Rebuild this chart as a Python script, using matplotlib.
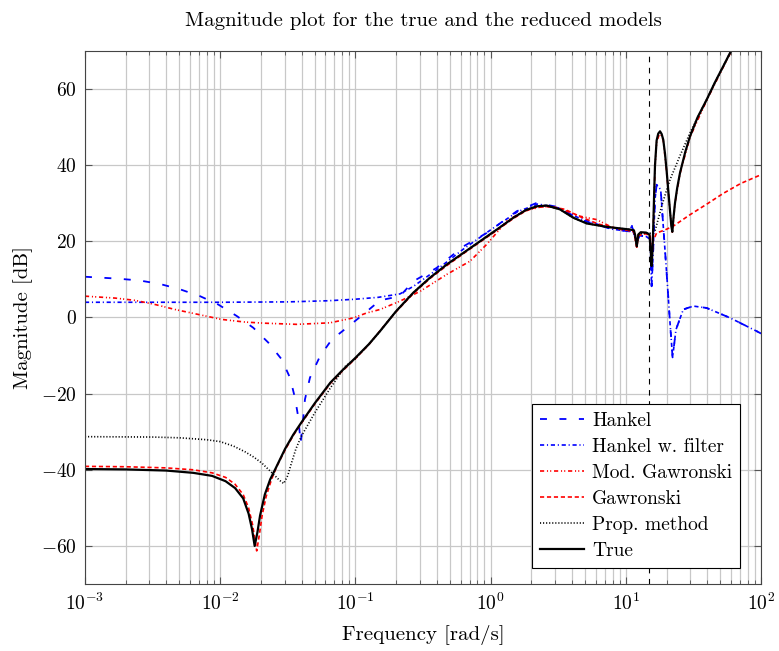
import matplotlib
matplotlib.use("Agg")
import matplotlib.pyplot as plt
import numpy as np

plt.rcParams['font.family'] = 'serif'
plt.rcParams['font.serif'] = ['cmr10', 'DejaVu Serif']
plt.rcParams['mathtext.fontset'] = 'cm'
plt.rcParams['axes.formatter.use_mathtext'] = True
plt.rcParams['lines.scale_dashes'] = False

# log10 of frequency [rad/s] and magnitude [dB] for each curve
lw_true = [-3.0, -2.7, -2.4, -2.2, -2.06, -1.96, -1.89, -1.83, -1.79, -1.765, -1.745, -1.725,
           -1.705, -1.67, -1.63, -1.595, -1.52, -1.46, -1.40, -1.30, -1.185, -1.1, -1.0, -0.9,
           -0.818, -0.7, -0.572, -0.45, -0.325, -0.2, -0.079, 0.05, 0.168, 0.26, 0.341, 0.415,
           0.513, 0.612, 0.711, 0.859, 1.031, 1.06, 1.07,
           1.081, 1.093, 1.11, 1.15, 1.175, 1.185, 1.191, 1.198, 1.204, 1.21, 1.216, 1.228,
           1.24, 1.253, 1.265, 1.277, 1.29, 1.302, 1.315, 1.327, 1.337, 1.344, 1.352, 1.364,
           1.38, 1.401, 1.44, 1.475, 1.53, 1.598, 1.66, 1.721, 1.8, 2.0]
mag_true = [-39.8, -39.9, -40.2, -40.8, -41.6, -43.0, -44.8, -47.5, -51.5, -55.5, -60.0, -56.5,
            -52.0, -46.5, -42.5, -40.0, -34.5, -30.8, -27.6, -22.5, -17.1, -14.0, -10.6, -7.0,
            -3.6, 1.6, 6.5, 10.4, 13.9, 17.0, 20.0, 23.2, 26.2, 28.2, 29.2, 29.4,
            28.4, 26.2, 24.7, 23.8, 23.1, 22.9, 21.5,
            18.7, 21.8, 22.4, 22.3, 21.8, 17.0, 13.5, 18.0, 25.0, 33.0, 40.0, 46.5,
            48.3, 48.9, 48.2, 46.7, 43.0, 38.5, 33.0, 28.0, 24.0, 22.5, 26.0, 30.1,
            34.0, 38.0, 43.5, 47.6, 52.5, 57.2, 61.8, 66.0, 71.5, 86.0]

lw_gaw = [-3.0, -2.7, -2.4, -2.2, -2.06, -1.96, -1.89, -1.83, -1.79, -1.76, -1.73, -1.71,
          -1.69, -1.66, -1.62, -1.58, -1.52, -1.46, -1.40, -1.30, -1.185, -1.1, -1.0, -0.9,
          -0.818, -0.7, -0.572, -0.45, -0.325, -0.2, -0.079, 0.05, 0.168, 0.26, 0.341, 0.45,
          0.55, 0.66, 0.8, 0.95, 1.031, 1.06, 1.081,
          1.093, 1.15, 1.18, 1.191, 1.2, 1.228, 1.29, 1.351, 1.475, 1.6, 1.721, 1.85, 2.0]
mag_gaw = [-39.1, -39.2, -39.5, -40.0, -40.8, -42.0, -43.8, -46.5, -50.0, -54.5, -61.3, -57.0,
           -52.0, -47.0, -42.5, -39.0, -34.8, -31.0, -27.8, -22.7, -17.3, -14.2, -10.8, -7.1,
           -3.5, 1.5, 6.3, 10.2, 13.6, 16.8, 19.8, 23.0, 26.0, 28.0, 29.0, 29.1,
           28.4, 26.5, 24.5, 23.3, 22.8, 22.6, 18.5,
           21.5, 22.0, 21.5, 14.0, 20.0, 22.2, 23.0, 24.0, 27.0, 29.8, 32.6, 35.2, 37.5]

lw_mgaw = [-3.0, -2.778, -2.63, -2.48, -2.334, -2.162, -1.99, -1.817, -1.67, -1.434, -1.188,
           -1.015, -0.916, -0.818, -0.67, -0.52, -0.325, -0.152, -0.029, 0.119, 0.242, 0.39,
           0.5, 0.661, 0.785, 0.908, 1.031, 1.06, 1.081, 1.093, 1.15, 1.18, 1.191, 1.204,
           1.216, 1.228, 1.253, 1.277, 1.302, 1.327, 1.344, 1.364, 1.401, 1.475, 1.598,
           1.721, 1.8, 2.0]
mag_mgaw = [5.6, 5.1, 4.5, 3.4, 2.1, 0.8, -0.5, -1.2, -1.5, -1.8, -1.4,
            -0.1, 1.2, 2.1, 4.3, 6.9, 11.3, 14.8, 19.2, 25.3, 27.9, 29.2,
            28.8, 26.6, 25.7, 23.5, 22.7, 22.6, 18.5, 21.6, 22.1, 21.6, 14.0, 24.5,
            39.5, 46.0, 48.7, 46.5, 38.3, 27.8, 22.4, 30.0, 37.8, 47.4, 57.0,
            65.8, 71.3, 86.0]

lw_hf = [-3.0, -2.5, -2.0, -1.5, -1.2, -1.0, -0.83, -0.67, -0.57, -0.4, -0.2, 0.0, 0.2,
         0.35, 0.5, 0.66, 0.9, 1.03, 1.043, 1.06, 1.081, 1.1, 1.15, 1.18, 1.186, 1.191,
         1.2, 1.216, 1.228, 1.258, 1.277, 1.302, 1.327, 1.346, 1.371, 1.425, 1.499, 1.598,
         1.771, 1.968, 2.0]
mag_hf = [4.0, 4.0, 4.0, 4.1, 4.4, 4.8, 5.3, 6.2, 8.2, 12.5, 18.0, 23.0, 27.8,
          29.8, 28.8, 26.0, 23.2, 22.6, 24.4, 22.0, 19.6, 21.5, 21.3, 20.5, 13.5, 8.2,
          15.0, 31.0, 34.9, 33.6, 24.0, 11.7, -1.4, -10.5, -3.2, 2.1, 3.0, 2.5,
          -0.1, -3.6, -4.2]

lw_hank = [-3.0, -2.754, -2.593, -2.445, -2.297, -2.149, -2.014, -1.878, -1.755, -1.644,
           -1.545, -1.484, -1.447, -1.422, -1.405, -1.39, -1.373, -1.336, -1.262, -1.175,
           -1.064, -0.929, -0.818, -0.67, -0.572, -0.4, -0.2, -0.029, 0.193, 0.341, 0.5,
           0.661, 0.908, 1.03, 1.043, 1.06, 1.081, 1.1, 1.15, 1.18, 1.186, 1.191, 1.2,
           1.216, 1.228, 1.258, 1.277, 1.302, 1.327, 1.346, 1.371, 1.425, 1.499, 1.598,
           1.771, 1.968, 2.0]
mag_hank = [10.7, 10.2, 9.7, 8.8, 7.4, 5.6, 3.4, 0.4, -2.7, -6.6,
            -11.0, -15.8, -21.1, -26.3, -33.0, -28.0, -21.5, -15.8, -10.2, -5.8,
            -2.7, 1.2, 4.5, 5.6, 9.5, 13.0, 18.7, 22.2, 27.9, 30.1, 29.0,
            25.7, 23.1, 22.6, 24.4, 22.0, 19.6, 21.5, 21.3, 20.5, 13.5, 8.2, 15.0,
            31.0, 34.9, 33.6, 24.0, 11.7, -1.4, -10.5, -3.2, 2.1, 3.0, 2.5,
            -0.1, -3.6, -4.2]

lw_prop = [-3.0, -2.5, -2.3, -2.1, -2.0, -1.9, -1.815, -1.75, -1.69, -1.617, -1.56, -1.53,
           -1.5, -1.476, -1.44, -1.40, -1.30, -1.185, -1.074, -1.0, -0.9, -0.818, -0.7,
           -0.572, -0.45, -0.325, -0.2, -0.079, 0.05, 0.168, 0.26, 0.341, 0.415,
           0.513, 0.612, 0.711, 0.859, 1.031, 1.06, 1.081, 1.093, 1.15, 1.17, 1.216,
           1.265, 1.302, 1.327, 1.401, 1.475, 1.549, 1.598, 1.66, 1.721, 1.8, 2.0]
mag_prop = [-31.3, -31.4, -31.6, -32.1, -32.6, -33.8, -35.3, -36.7, -38.3, -40.8, -42.8, -43.6,
            -41.5, -38.6, -34.5, -31.2, -25.0, -18.5, -12.8, -10.8, -7.0, -3.6, 1.6,
            6.5, 10.4, 13.9, 17.0, 20.0, 23.2, 26.2, 28.2, 29.2, 29.4,
            28.4, 26.2, 24.7, 23.8, 23.1, 22.9, 18.7, 21.8, 22.3, 22.0, 22.7,
            29.2, 33.5, 36.2, 42.5, 48.5, 53.8, 57.2, 61.8, 66.0, 71.5, 86.0]

f_marker = 14.9

fig = plt.figure(figsize=(7.79, 6.51), dpi=100)
ax = fig.add_axes([0.1091, 0.1029, 0.8678, 0.8188])

ax.semilogx(10**np.array(lw_hank), mag_hank, color='blue', lw=1.3, dashes=(5, 9), label='Hankel')
ax.semilogx(10**np.array(lw_hf), mag_hf, color='blue', lw=1.2, dashes=(3, 2, 0.8, 2), label='Hankel w. filter')
ax.semilogx(10**np.array(lw_mgaw), mag_mgaw, color='red', lw=1.2, dashes=(3, 2, 0.8, 1.5, 0.8, 2), label='Mod. Gawronski')
ax.semilogx(10**np.array(lw_gaw), mag_gaw, color='red', lw=1.2, dashes=(3, 2), label='Gawronski')
ax.semilogx(10**np.array(lw_prop), mag_prop, color='black', lw=1.2, dashes=(0.8, 1.4), label='Prop. method')
ax.semilogx(10**np.array(lw_true), mag_true, color='black', lw=1.6, label='True')
ax.axvline(f_marker, color='black', lw=0.8, dashes=(4, 4))

ax.set_xlim(1e-3, 1e2)
ax.set_ylim(-70, 70)
ax.set_yticks([-60, -40, -20, 0, 20, 40, 60])
ax.grid(True, which='major', color='#c8c8c8', lw=0.9)
ax.grid(True, which='minor', axis='x', color='#c8c8c8', lw=0.9)
ax.tick_params(which='both', direction='in', top=True, right=True, labelsize=14, color='#555555')
ax.tick_params(which='major', length=5, pad=6)
ax.tick_params(which='minor', length=3)
for s in ax.spines.values():
    s.set_color('#444444')

ax.set_xlabel('Frequency [rad/s]', fontsize=15, labelpad=8)
ax.set_ylabel('Magnitude [dB]', fontsize=15, labelpad=6)
ax.set_title('Magnitude plot for the true and the reduced models', fontsize=15, pad=18)

leg = ax.legend(loc='lower right', bbox_to_anchor=(0.969, 0.03), borderaxespad=0,
                fancybox=False, edgecolor='black', framealpha=1, fontsize=14,
                handlelength=2.3, handletextpad=0.4, labelspacing=0.42, borderpad=0.4)
leg.get_frame().set_linewidth(0.8)

fig.savefig('out.png', dpi=100)
